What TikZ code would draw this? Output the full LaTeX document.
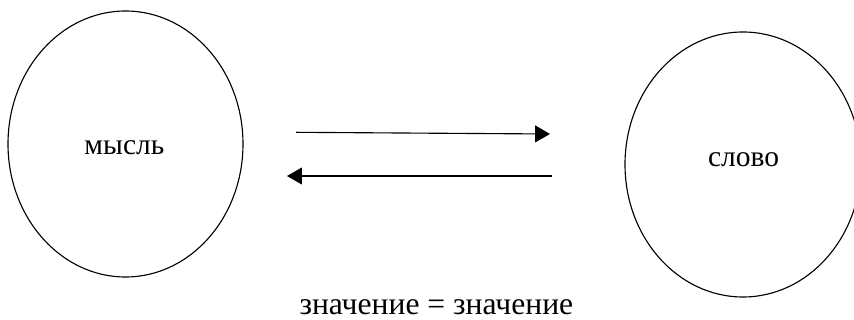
\documentclass[tikz,border=0pt]{standalone}
\usepackage{fontspec}
\setmainfont{Liberation Serif}
\usetikzlibrary{positioning,arrows.meta,shapes.geometric}

\begin{document}
\begin{tikzpicture}[font=\fontsize{21}{25}\selectfont,
  blob/.style={draw, ellipse, line width=0.8pt, inner sep=0pt},
  link/.style={-{Triangle[length=10.6pt, width=12pt]}, line width=0.8pt}]
\useasboundingbox (0,0) rectangle (21.35,-8);
% the two circles
\node[blob, minimum width=5.875cm, minimum height=6.65cm] (thought) at (3.1375,-3.6) {};
\node at (3.11,-3.68) (thoughtlbl) {мысль};
\node[blob, minimum width=5.9cm, minimum height=6.625cm] (word) at (18.575,-4.1125) {};
\node at (18.59,-4.0) (wordlbl) {слово};
% arrows between them
\coordinate (a1) at (7.4,-3.3075);
\coordinate (b1) at (13.75,-3.35);
\coordinate (a2) at (13.8,-4.4);
\coordinate (b2) at (7.175,-4.4);
\draw[link] (a1) -- (b1);
\draw[link] (a2) -- (b2);
% caption
\node[anchor=base, inner sep=0pt, font=\fontsize{22.5}{26}\selectfont] (meaning) at (10.91,-7.86) {значение = значение};
\end{tikzpicture}
\end{document}
